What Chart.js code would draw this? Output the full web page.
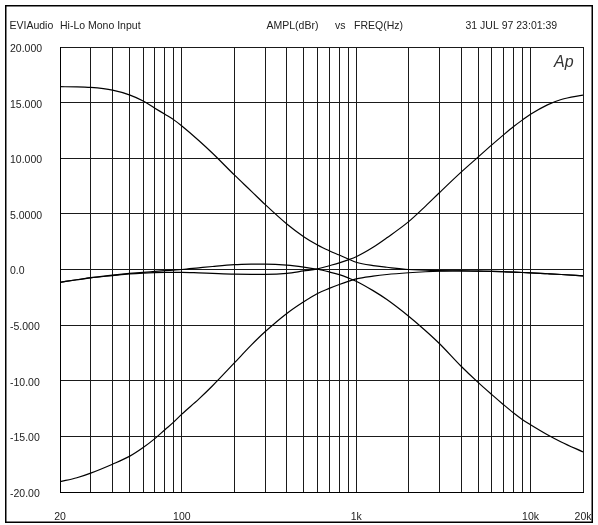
<!DOCTYPE html>
<html><head><meta charset="utf-8">
<script src="https://cdn.jsdelivr.net/npm/chart.js@4.4.1/dist/chart.umd.min.js"></script>
<style>html,body{margin:0;padding:0;background:#fff;}#wrap{position:relative;width:598px;height:525px;}</style>
</head><body><div id="wrap"><canvas id="c" width="598" height="525"></canvas></div>
<script>
// Frequencies (Hz) at which each curve was read
const freqs = [20,25,30,40,50,60,70,80,90,100,125,150,200,250,300,400,500,600,700,800,900,1000,1250,1500,2000,2500,3000,4000,5000,6000,7000,8000,9000,10000,12500,15000,20000];
// Amplitude (dBr) per curve
const bassBoost  = [16.43,16.42,16.37,16.13,15.7,15.15,14.5,13.95,13.45,12.9,11.6,10.45,8.5,7.05,5.85,4.09,2.95,2.2,1.69,1.3,0.95,0.65,0.35,0.2,0.0,-0.05,-0.1,-0.12,-0.15,-0.17,-0.2,-0.23,-0.27,-0.3,-0.38,-0.45,-0.58];
const bassCut    = [-19.07,-18.72,-18.3,-17.5,-16.8,-16.0,-15.2,-14.4,-13.7,-13.0,-11.65,-10.45,-8.4,-6.8,-5.6,-3.95,-2.9,-2.15,-1.7,-1.35,-1.07,-0.85,-0.6,-0.45,-0.29,-0.2,-0.15,-0.13,-0.15,-0.17,-0.2,-0.23,-0.27,-0.3,-0.38,-0.45,-0.58];
const trebleCut  = [-1.15,-0.92,-0.73,-0.5,-0.35,-0.25,-0.17,-0.1,-0.05,0.0,0.15,0.27,0.43,0.48,0.49,0.4,0.22,0.02,-0.22,-0.46,-0.75,-1.05,-1.9,-2.7,-4.2,-5.5,-6.65,-8.7,-10.15,-11.25,-12.15,-12.9,-13.5,-13.95,-14.85,-15.5,-16.4];
const trebleBoost= [-1.15,-0.92,-0.75,-0.55,-0.4,-0.32,-0.28,-0.26,-0.25,-0.25,-0.3,-0.35,-0.42,-0.43,-0.43,-0.35,-0.13,0.05,0.34,0.6,0.87,1.15,2.0,2.85,4.3,5.7,6.9,8.75,10.1,11.2,12.1,12.85,13.45,13.95,14.8,15.28,15.68];

// Axis ticks / labels
const gridFreqs = [20,30,40,50,60,70,80,90,100,200,300,400,500,600,700,800,900,1000,2000,3000,4000,5000,6000,7000,8000,9000,10000,20000];
const xLabelValues = [20,100,1000,10000,20000];
const xLabelTexts  = ['20','100','1k','10k','20k'];
const yTickValues = [-20,-15,-10,-5,0,5,10,15,20];
const yTickLabels = ['-20.00','-15.00','-10.00','-5.000','0.0','5.0000','10.000','15.000','20.000'];

const FONT = '"Liberation Sans", Arial, sans-serif';
const mk = (arr) => freqs.map((f,i)=>({x:f,y:arr[i]}));
const ds = (arr) => ({data: mk(arr), borderColor:'#000', borderWidth:1.2, pointRadius:0, fill:false, showLine:true, cubicInterpolationMode:'monotone'});

const decor = {
  id:'decor',
  beforeDraw(chart){
    const c = chart.ctx; c.save();
    c.fillStyle='#fff'; c.fillRect(0,0,chart.width,chart.height);
    c.restore();
  },
  afterDraw(chart){
    const c = chart.ctx; c.save();
    c.strokeStyle='#000'; c.lineWidth=1.5;
    c.strokeRect(5.75,5.75,586.5,516.5);
    c.fillStyle='#222'; c.font='10.5px '+FONT; c.textBaseline='middle'; c.textAlign='left';
    c.fillText('EVIAudio',9.5,26);
    c.fillText('Hi-Lo Mono Input',60,26);
    c.fillText('AMPL(dBr)',266.5,26);
    c.fillText('vs',335,26);
    c.fillText('FREQ(Hz)',354,26);
    c.fillText('31 JUL 97 23:01:39',465.5,26);
    c.font='italic 16px '+FONT; c.fillStyle='#333';
    c.fillText('Ap',554,63);
    c.restore();
  }
};

new Chart(document.getElementById('c'), {
  type:'scatter',
  data:{datasets:[ds(bassBoost), ds(bassCut), ds(trebleBoost), ds(trebleCut)]},
  options:{
    responsive:false, animation:false, devicePixelRatio:1,
    layout:{padding:{left:10, top:47, right:15, bottom:0}},
    plugins:{legend:{display:false}, tooltip:{enabled:false}},
    scales:{
      x:{type:'logarithmic', min:20, max:20000,
        afterBuildTicks:(s)=>{ s.ticks = gridFreqs.map(v=>({value:v})); },
        afterFit:(s)=>{ s.height = 33; s.paddingLeft = 0; s.paddingRight = 0; },
        ticks:{autoSkip:false, maxRotation:0, minRotation:0, padding:19, color:'#222', font:{family:FONT, size:10.5},
          callback:(v)=>{ const i = xLabelValues.indexOf(v); return i>=0 ? xLabelTexts[i] : ''; }},
        grid:{color:'#1a1a1a', lineWidth:1, drawTicks:false},
        border:{display:true, color:'#000', width:1}
      },
      y:{type:'linear', min:-20, max:20,
        afterBuildTicks:(s)=>{ s.ticks = yTickValues.map(v=>({value:v})); },
        afterFit:(s)=>{ s.width = 50; s.paddingTop = 0; s.paddingBottom = 0; },
        ticks:{crossAlign:'far', padding:4, labelOffset:2, color:'#222', font:{family:FONT, size:10.5},
          callback:(v)=>{ const i = yTickValues.indexOf(v); return i>=0 ? yTickLabels[i] : ''; }},
        grid:{color:'#1a1a1a', lineWidth:1, drawTicks:false},
        border:{display:true, color:'#000', width:1}
      }
    }
  },
  plugins:[decor]
});
</script></body></html>
